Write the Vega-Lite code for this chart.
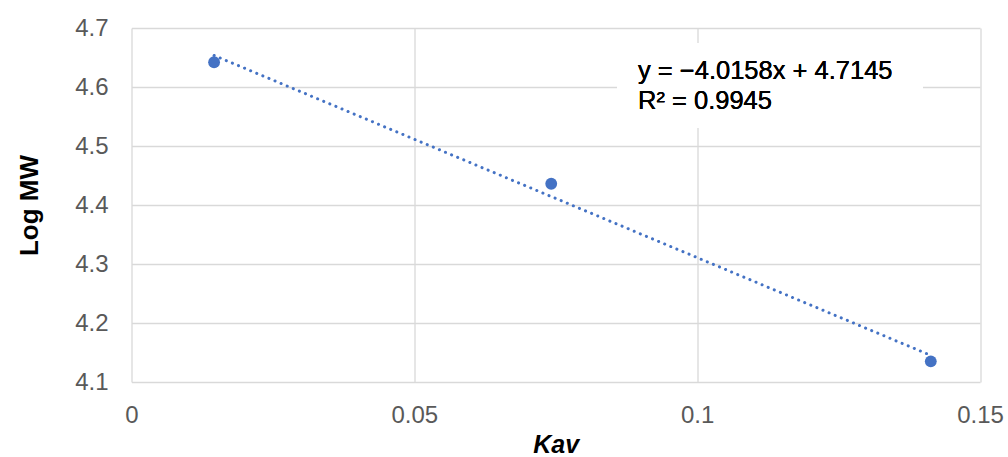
{
  "$schema": "https://vega.github.io/schema/vega-lite/v6.json",
  "autosize": "none",
  "width": 848.5,
  "height": 354,
  "padding": {"left": 131.5, "top": 28, "right": 28, "bottom": 75},
  "background": "white",
  "config": {
    "view": {"stroke": null},
    "font": "Liberation Sans",
    "axis": {
      "grid": true,
      "gridColor": "#d9d9d9",
      "gridWidth": 1.3,
      "domain": false,
      "ticks": false,
      "labelFont": "Liberation Sans",
      "labelFontSize": 24,
      "labelColor": "#595959",
      "titleFont": "Liberation Sans",
      "titleFontWeight": "bold",
      "titleColor": "#000000"
    }
  },
  "data": {
    "values": [
      {"kav": 0.0146, "logmw": 4.642},
      {"kav": 0.0742, "logmw": 4.436},
      {"kav": 0.1413, "logmw": 4.135}
    ]
  },
  "encoding": {
    "x": {
      "field": "kav",
      "type": "quantitative",
      "scale": {"domain": [0, 0.15], "nice": false, "zero": false},
      "axis": {
        "title": "Kav",
        "titleFontSize": 25,
        "titleFontStyle": "italic",
        "values": [0, 0.05, 0.1, 0.15],
        "labelExpr": "'' + datum.value",
        "labelPadding": 21,
        "labelFlush": false,
        "titleBaseline": "alphabetic",
        "titleY": 70
      }
    },
    "y": {
      "field": "logmw",
      "type": "quantitative",
      "scale": {"domain": [4.1, 4.7], "nice": false, "zero": false},
      "axis": {
        "title": "Log MW",
        "titleFontSize": 26,
        "values": [4.1, 4.2, 4.3, 4.4, 4.5, 4.6, 4.7],
        "format": ".1f",
        "labelPadding": 23.5,
        "labelFlush": false,
        "titleBaseline": "alphabetic",
        "titleX": -94.5
      }
    }
  },
  "layer": [
    {
      "mark": {"type": "rect", "fill": "white", "stroke": null},
      "encoding": {
        "x": {"datum": 0.08583, "type": "quantitative"},
        "x2": {"datum": 0.13992},
        "y": {"datum": 4.6746, "type": "quantitative"},
        "y2": {"datum": 4.5305}
      }
    },
    {
      "transform": [{"regression": "logmw", "on": "kav"}],
      "mark": {
        "type": "line",
        "color": "#4472C4",
        "strokeWidth": 3,
        "strokeDash": [0.1, 6.5],
        "strokeCap": "round"
      }
    },
    {
      "mark": {"type": "point", "filled": true, "opacity": 1, "color": "#4472C4", "size": 140}
    },
    {
      "mark": {"type": "text", "text": "y = \u22124.0158x + 4.7145", "align": "left", "baseline": "alphabetic", "fontSize": 25.5, "color": "#000000", "font": "Liberation Sans"},
      "encoding": {
        "x": {"datum": 0.08954, "type": "quantitative"},
        "y": {"datum": 4.6136, "type": "quantitative"}
      }
    },
    {
      "mark": {"type": "text", "text": "R\u00b2 = 0.9945", "align": "left", "baseline": "alphabetic", "fontSize": 25.5, "color": "#000000", "font": "Liberation Sans"},
      "encoding": {
        "x": {"datum": 0.08954, "type": "quantitative"},
        "y": {"datum": 4.5627, "type": "quantitative"}
      }
    }
  ]
}
